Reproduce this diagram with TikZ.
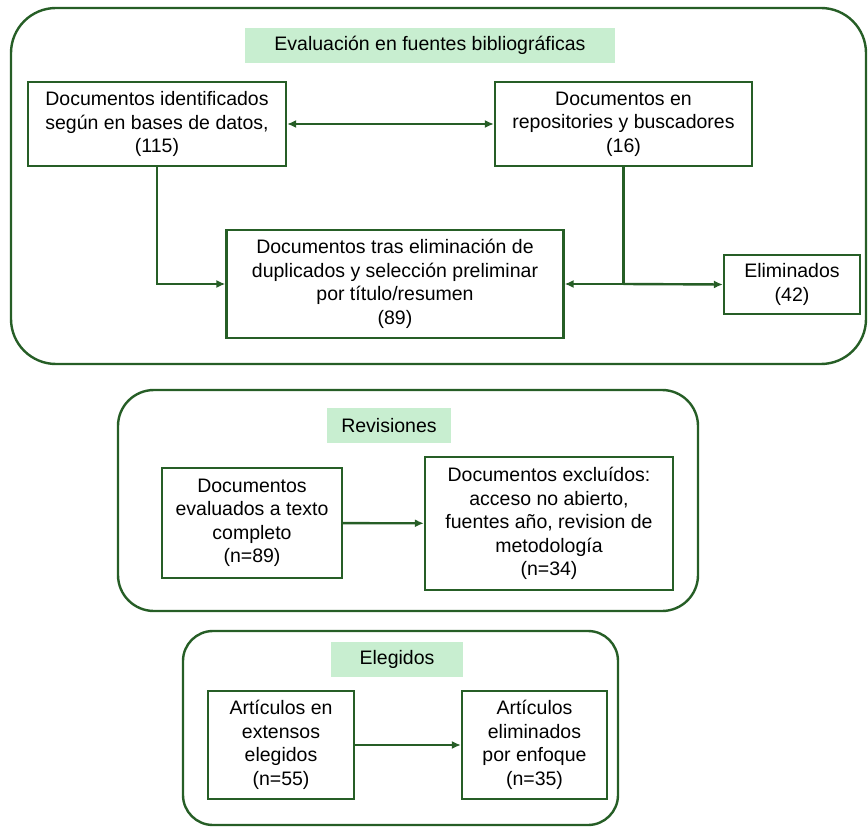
\documentclass[tikz,border=0pt]{standalone}
\usepackage{fontspec}
\setmainfont{Liberation Sans}
\usepackage{tikz}
\usetikzlibrary{arrows.meta,positioning,calc}
\definecolor{cline}{RGB}{38,94,38}
\definecolor{ctitle}{RGB}{200,238,208}

\begin{document}
\begin{tikzpicture}[
  x=1pt, y=-1pt,
  font=\fontsize{19.5}{23.5}\selectfont,
  box/.style={draw=cline, line width=2.2pt, fill=white, align=center, inner sep=2pt},
  ttl/.style={fill=ctitle, align=center, inner sep=0pt, minimum height=35pt},
  panel/.style={draw=cline, line width=2.4pt, rounded corners=#1},
  ar/.style={-{Latex[length=9pt,width=8pt]}, draw=cline, line width=2.4pt},
  arb/.style={{Latex[length=9pt,width=8pt]}-{Latex[length=9pt,width=8pt]}, draw=cline, line width=2.4pt},
]
\useasboundingbox (0,0) rectangle (868,829);

% --- panels ---
\draw[panel=45pt] (11,8) rectangle (866,364);
\draw[panel=36pt] (118,390) rectangle (698,611);
\draw[panel=30pt] (183,631) rectangle (618,825);

% --- evaluation in sources (top) ---
\node[ttl, minimum width=370pt] (t1) at (430,45.5) {Evaluación en fuentes bibliográficas};
\node[box, minimum width=258pt, minimum height=84pt] (bd) at (157,124)
  {Documentos identificados\\según en bases de datos,\\(115)};
\node[box, minimum width=257pt, minimum height=84pt] (rep) at (623.5,124)
  {Documentos en\\repositories y buscadores\\(16)};
\node[box, minimum width=337pt, minimum height=108pt] (dup) at (395,284)
  {Documentos tras eliminación de\\duplicados y selección preliminar\\por título/resumen\\(89)};
\node[box, minimum width=136pt, minimum height=59pt] (elim) at (792,284.5)
  {Eliminados\\(42)};
\coordinate (jn) at (rep.south |- dup.east);
\draw[arb] (bd) -- (rep);
\draw[ar] (bd.south) |- (dup.west);
\draw[cline, line width=2.4pt] (rep.south) -- (jn);
\draw[ar] (jn) -- (dup.east);
\draw[ar] (jn) -- (elim.west);

% --- revisions ---
\node[ttl, minimum width=124pt] (t2) at (389,425.5) {Revisiones};
\node[box, minimum width=180pt, minimum height=110pt] (full) at (252,523)
  {Documentos\\evaluados a texto\\completo\\(n=89)};
\node[box, minimum width=248pt, minimum height=133pt] (excl) at (549,523.5)
  {Documentos excluídos:\\acceso no abierto,\\fuentes año, revision de\\metodología\\(n=34)};
\draw[ar] (full) -- (excl);

% --- chosen ---
\node[ttl, minimum width=132pt] (t3) at (397,659.5) {Elegidos};
\node[box, minimum width=146pt, minimum height=108pt] (chosen) at (281,745)
  {Artículos en\\extensos\\elegidos\\(n=55)};
\node[box, minimum width=145pt, minimum height=108pt] (focus) at (534.5,745)
  {Artículos\\eliminados\\por enfoque\\(n=35)};
\draw[ar] (chosen) -- (focus);
\end{tikzpicture}
\end{document}
